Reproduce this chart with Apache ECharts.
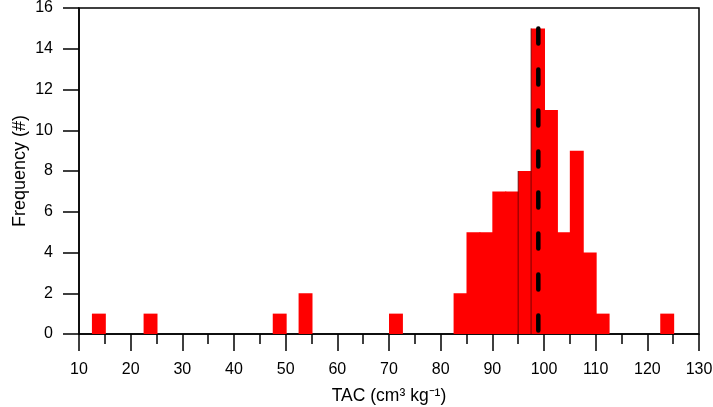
<!DOCTYPE html>
<html>
<head>
<meta charset="utf-8">
<script src="https://cdn.jsdelivr.net/npm/echarts@6/dist/echarts.min.js"></script>
<style>
  html, body { margin: 0; padding: 0; background: #fff; }
  #chart { width: 713px; height: 407px; }
</style>
</head>
<body>
<div id="chart"></div>
<script>
// Histogram of TAC values, bins 2.5 cm3/kg wide
const binWidth = 2.5;
const binStarts = [12.5, 22.5, 47.5, 52.5, 70, 82.5, 85, 87.5, 90, 92.5, 95, 97.5, 100, 102.5, 105, 107.5, 110, 122.5];
const counts    = [1,    1,    1,    2,    1,  2,    5,  5,    7,  7,    8,  15,   11,  5,     9,   4,     1,   1];
// Median marker
const medianTAC = 98.9;
const medianTop = 15;
const xTicks = [10, 130, 10];   // min, max, step
const yTicks = [0, 16, 2];

// bins whose left edge gets a darker divider line
const dividerEdges = [95, 97.5];

const chart = echarts.init(document.getElementById('chart'));
const font = 'Liberation Sans, Arial, sans-serif';

const binData = binStarts.map((s, i) => [s, s + binWidth, counts[i]]);

chart.setOption({
  animation: false,
  grid: {
    left: 79, right: 14, top: 8, bottom: 73,
    containLabel: false, outerBoundsMode: 'none',
    show: true, borderColor: '#000', borderWidth: 1.5, backgroundColor: 'transparent'
  },
  xAxis: {
    type: 'value', min: xTicks[0], max: xTicks[1], interval: xTicks[2],
    name: 'TAC (cm³ kg⁻¹)', nameLocation: 'middle', nameGap: 53, nameMoveOverlap: false,
    nameTextStyle: { fontFamily: font, fontSize: 17.5, color: '#000' },
    axisLine: { lineStyle: { color: '#000', width: 1.5 } },
    axisTick: { show: true, inside: false, length: 17, lineStyle: { color: '#000', width: 1.5 } },
    minorTick: { show: true, splitNumber: 2, length: 10, lineStyle: { color: '#000', width: 1.5 } },
    axisLabel: { fontFamily: font, fontSize: 16, color: '#000', margin: 28 },
    splitLine: { show: false }
  },
  yAxis: {
    type: 'value', min: yTicks[0], max: yTicks[1], interval: yTicks[2],
    name: 'Frequency (#)', nameLocation: 'middle', nameGap: 50, nameMoveOverlap: false,
    nameTextStyle: { fontFamily: font, fontSize: 18, color: '#000' },
    axisLine: { show: true, lineStyle: { color: '#000', width: 1.5 } },
    axisTick: { show: true, inside: false, length: 16, lineStyle: { color: '#000', width: 1.5 } },
    axisLabel: { fontFamily: font, fontSize: 16, color: '#000', margin: 26 },
    splitLine: { show: false }
  },
  series: [
    {
      type: 'custom',
      data: binData,
      encode: { x: [0, 1], y: 2 },
      renderItem: function (params, api) {
        const start = api.value(0);
        const p0 = api.coord([start, 0]);
        const p1 = api.coord([api.value(1), api.value(2)]);
        const children = [{
          type: 'rect',
          shape: { x: p0[0], y: p1[1], width: p1[0] - p0[0] + 1, height: p0[1] - p1[1] },
          style: { fill: '#ff0000', stroke: null }
        }];
        if (dividerEdges.indexOf(start) >= 0) {
          children.push({
            type: 'line',
            shape: { x1: p0[0], y1: p1[1], x2: p0[0], y2: p0[1] },
            style: { stroke: 'rgba(90,0,0,0.8)', lineWidth: 1 },
            z2: 5
          });
        }
        return { type: 'group', children: children };
      },
      z: 2
    },
    {
      type: 'line',
      data: [[medianTAC, medianTop], [medianTAC, 0]],
      symbol: 'none',
      lineStyle: { color: '#000', width: 4.5, type: [15, 26], cap: 'round' },
      z: 3
    }
  ]
});
</script>
</body>
</html>
